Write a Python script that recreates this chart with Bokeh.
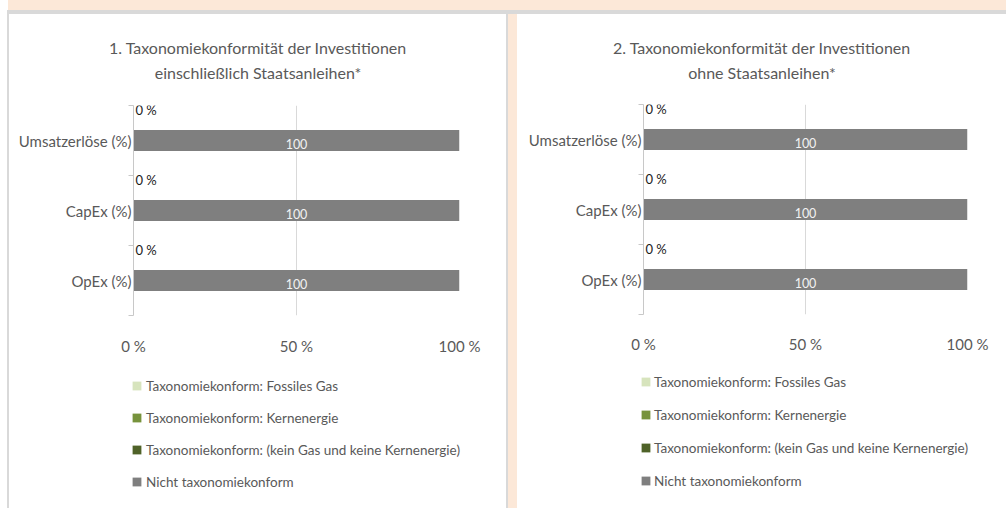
import numpy as np
from bokeh.plotting import figure
from bokeh.models import Range1d, FixedTicker, Legend, LegendItem, Div, ColumnDataSource
from bokeh.layouts import row, column
from bokeh.embed import file_html
from bokeh.resources import INLINE
from bokeh.core.properties import value

# ---------------- data ----------------
categories = ["Umsatzerlöse (%)", "CapEx (%)", "OpEx (%)"]

series_names = [
    "Taxonomiekonform: Fossiles Gas",
    "Taxonomiekonform: Kernenergie",
    "Taxonomiekonform: (kein Gas und keine Kernenergie)",
    "Nicht taxonomiekonform",
]
series_colors = ["#d7e4bd", "#77933c", "#4f6228", "#7f7f7f"]

# chart 1: incl. sovereign bonds
fossil_gas_1 = [0, 0, 0]
nuclear_1 = [0, 0, 0]
other_aligned_1 = [0, 0, 0]
not_aligned_1 = [100, 100, 100]

# chart 2: excl. sovereign bonds
fossil_gas_2 = [0, 0, 0]
nuclear_2 = [0, 0, 0]
other_aligned_2 = [0, 0, 0]
not_aligned_2 = [100, 100, 100]

x_ticks = [0, 50, 100]
x_tick_labels = ["0 %", "50 %", "100 %"]

title_1 = ["1. Taxonomiekonformität der Investitionen", "einschließlich Staatsanleihen*"]
title_2 = ["2. Taxonomiekonformität der Investitionen", "ohne Staatsanleihen*"]

FONT = "Lato"
TXT = "#595959"
GRID = "#d9d9d9"
PEACH = "#fce8d8"
BORDER = "#d9d9d9"


def blank_fig(w, h, **kw):
    f = figure(width=w, height=h, output_backend="svg", toolbar_location=None,
               x_axis_type=None, y_axis_type=None, frame_align=False,
               x_range=Range1d(0, w), y_range=Range1d(0, h), **kw)
    f.outline_line_color = None
    f.background_fill_color = "white"
    f.border_fill_color = "white"
    f.xgrid.visible = False
    f.ygrid.visible = False
    return f


def make_panel(width, title_h, chart_h, left, frame_w, frame_top, frame_h,
               leg_h, leg_left, leg_top, leg_spacing, leg_standoff,
               titles, gas, nuc, oth, nal, xlab_standoff):
    n = len(categories)

    # ---- title ----
    tf = blank_fig(width, title_h, min_border=0)
    tf.text(x=[width / 2, width / 2], y=[title_h - 33, title_h - 58], text=titles,
            text_font=value(FONT), text_font_size="16px", text_color=TXT,
            text_align="center", text_baseline="middle")

    # ---- chart ----
    p = figure(width=width, height=chart_h, output_backend="svg", toolbar_location=None,
               x_range=Range1d(0, 100), y_range=Range1d(0, n),
               min_border_left=left, min_border_right=width - left - frame_w,
               min_border_top=frame_top, min_border_bottom=chart_h - frame_top - frame_h)
    p.outline_line_color = None
    p.background_fill_color = "white"
    p.border_fill_color = "white"

    centers = [n - i - 0.5 for i in range(n)]
    src = ColumnDataSource(dict(
        y=centers,
        ytop=[c + 0.3 for c in centers],
        ylab=[c + 0.44 for c in centers],
        gas=gas, nuc=nuc, oth=oth, nal=nal,
        mid=[v / 2 for v in nal],
        zero=[0] * n,
        conf_lab=[f"{a + b + c:g} %" for a, b, c in zip(gas, nuc, oth)],
        nal_lab=[f"{v:g}" for v in nal],
    ))

    p.hbar_stack(["gas", "nuc", "oth"], y="ytop", height=0.3, source=src,
                 color=series_colors[:3], line_color=None)
    p.hbar(y="y", left=0, right="nal", height=0.3, source=src,
           fill_color=series_colors[3], line_color=None)

    p.text(x="zero", y="ylab", text="conf_lab", source=src, x_offset=2,
           text_font=value(FONT), text_font_size="13px", text_color="#1a1a1a",
           text_baseline="middle", text_align="left")
    p.text(x="mid", y="y", text="nal_lab", source=src, y_offset=3,
           text_font=value(FONT), text_font_size="12.5px", text_color="#f2f2f2",
           text_baseline="middle", text_align="center")

    xa = p.xaxis[0]
    xa.ticker = FixedTicker(ticks=x_ticks)
    xa.major_label_overrides = {t: l for t, l in zip(x_ticks, x_tick_labels)}
    xa.axis_line_color = None
    xa.major_tick_line_color = None
    xa.minor_tick_line_color = None
    xa.major_tick_out = 0
    xa.major_tick_in = 0
    xa.major_label_standoff = xlab_standoff
    xa.major_label_text_font = FONT
    xa.major_label_text_font_size = "15px"
    xa.major_label_text_color = TXT

    ya = p.yaxis[0]
    ya.ticker = FixedTicker(ticks=centers, minor_ticks=list(range(n + 1)))
    ya.major_label_overrides = {c: cat for c, cat in zip(centers, categories)}
    ya.axis_line_color = "#c8c8c8"
    ya.major_tick_out = 0
    ya.major_tick_in = 0
    ya.minor_tick_out = 5
    ya.minor_tick_in = 0
    ya.minor_tick_line_color = "#c8c8c8"
    ya.major_label_standoff = -3
    ya.major_label_text_font = FONT
    ya.major_label_text_font_size = "15px"
    ya.major_label_text_color = TXT

    p.xgrid.ticker = FixedTicker(ticks=x_ticks)
    p.xgrid.grid_line_color = GRID
    p.ygrid.visible = False

    # ---- legend ----
    lf = blank_fig(width, leg_h, min_border_left=leg_left, min_border_top=leg_top,
                   min_border_right=0, min_border_bottom=0)
    items = []
    for name, col in zip(series_names, series_colors):
        r = lf.hbar(y=np.array([np.nan]), right=np.array([np.nan]), height=1,
                    fill_color=col, line_color=None)
        items.append(LegendItem(label=name, renderers=[r]))
    leg = Legend(items=items, location="top_left", orientation="vertical",
                 glyph_width=11, glyph_height=11, label_standoff=leg_standoff,
                 label_height=17, spacing=leg_spacing, padding=0, margin=0,
                 border_line_color=None, background_fill_alpha=0,
                 label_text_font=FONT, label_text_font_size="13.5px",
                 label_text_color=TXT)
    lf.add_layout(leg)

    return column(tf, p, lf, margin=0, spacing=0)


# panel 1: canvas x 9..506, panel 2: canvas x 517..1006 ; both start at y 14
c1 = make_panel(497, 76, 275, 124, 326, 15, 210, 143, 122, 12, 15, 4, title_1,
                fossil_gas_1, nuclear_1, other_aligned_1, not_aligned_1, 21)
c2 = make_panel(489, 76, 275, 126, 324, 14, 210, 143, 123, 8, 16, 3, title_2,
                fossil_gas_2, nuclear_2, other_aligned_2, not_aligned_2, 20)


def box(w, h, c):
    return Div(text="", width=w, height=h, margin=0, styles={"background-color": c})


top1 = row(box(8, 10, "white"), box(998, 10, PEACH), margin=0, spacing=0)
top2 = row(box(7, 4, "white"), box(999, 4, BORDER), margin=0, spacing=0)
main = row(box(7, 494, "white"), box(2, 494, BORDER), c1, box(2, 494, BORDER),
           box(9, 494, PEACH), c2, margin=0, spacing=0)
page = column(top1, top2, main, margin=0, spacing=0)

open("out.html", "w").write(file_html(page, INLINE))
